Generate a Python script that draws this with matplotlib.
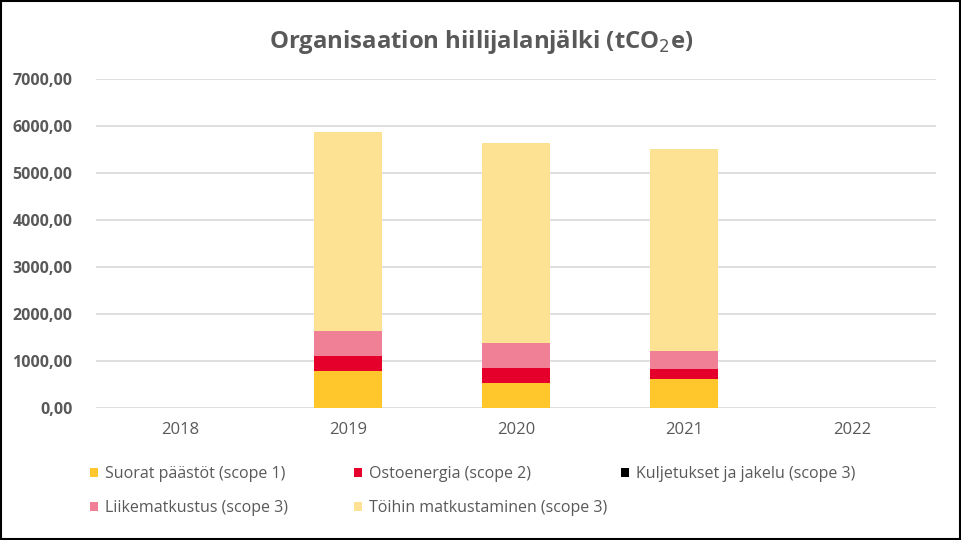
import matplotlib
matplotlib.use("Agg")
import matplotlib.pyplot as plt
import numpy as np
from matplotlib.patches import Rectangle

years = ["2018", "2019", "2020", "2021", "2022"]
scope1 = [0, 794, 538, 623, 0]
scope2 = [0, 319, 319, 213, 0]
kuljetukset = [0, 0, 0, 0, 0]
liikematkustus = [0, 532, 532, 383, 0]
toihin = [0, 4234, 4256, 4298, 0]

series_names = ["Suorat päästöt (scope 1)", "Ostoenergia (scope 2)",
                "Kuljetukset ja jakelu (scope 3)", "Liikematkustus (scope 3)",
                "Töihin matkustaminen (scope 3)"]
colors = ["#FFC72C", "#E4002B", "#000000", "#F08095", "#FDE293"]

plt.rcParams['font.family'] = ['Open Sans', 'DejaVu Sans']
grey = "#595959"

W, H = 962, 540
fig = plt.figure(figsize=(W / 100, H / 100), dpi=100)
ax = fig.add_axes([96 / W, 1 - 408.3 / H, (936 - 96) / W, (408.3 - 79.3) / H])

x = np.arange(len(years))
bottom = np.zeros(len(years))
handles = []
for vals, col, name in zip([scope1, scope2, kuljetukset, liikematkustus, toihin], colors, series_names):
    b = ax.bar(x, vals, width=0.41, bottom=bottom, color=col, label=name, zorder=3)
    bottom += np.array(vals)
    handles.append(b)

ax.set_xlim(-0.5, len(years) - 0.5)
ax.set_ylim(0, 7000)
ax.set_yticks(np.arange(0, 7001, 1000))
ax.set_yticklabels([f"{v:.2f}".replace(".", ",") for v in np.arange(0, 7001, 1000)],
                   fontsize=11.5, fontweight='bold', color=grey)
ax.set_xticks(x)
ax.set_xticklabels(years, fontsize=12, color=grey)
ax.tick_params(axis='y', length=0, pad=17)
ax.tick_params(axis='x', length=0, pad=10)
ax.grid(axis='y', color="#D9D9D9", linewidth=1.2, zorder=0)
for s in ax.spines.values():
    s.set_visible(False)

fig.text(481 / W, 1 - 42 / H, "Organisaation hiilijalanjälki (tCO$_2$e)", ha='center', va='center',
         fontsize=17.2, fontweight='bold', color=grey)

# legend entries placed row-major like the reference
positions = [(90, 474), (354, 474), (621, 474), (90, 508), (354, 508)]
for i, (px, py) in enumerate(positions):
    leg = fig.legend([handles[i]], [series_names[i]], loc='center left',
                     bbox_to_anchor=(px / W, 1 - py / H), frameon=False, fontsize=11.5,
                     handlelength=0.5, handleheight=0.5, handletextpad=0.45,
                     borderpad=0, borderaxespad=0, labelcolor=grey)

fig.add_artist(Rectangle((0.001, 0.001), 0.997, 0.997, transform=fig.transFigure,
                         fill=False, edgecolor='black', linewidth=1.5))

fig.savefig("out.png", dpi=100)
